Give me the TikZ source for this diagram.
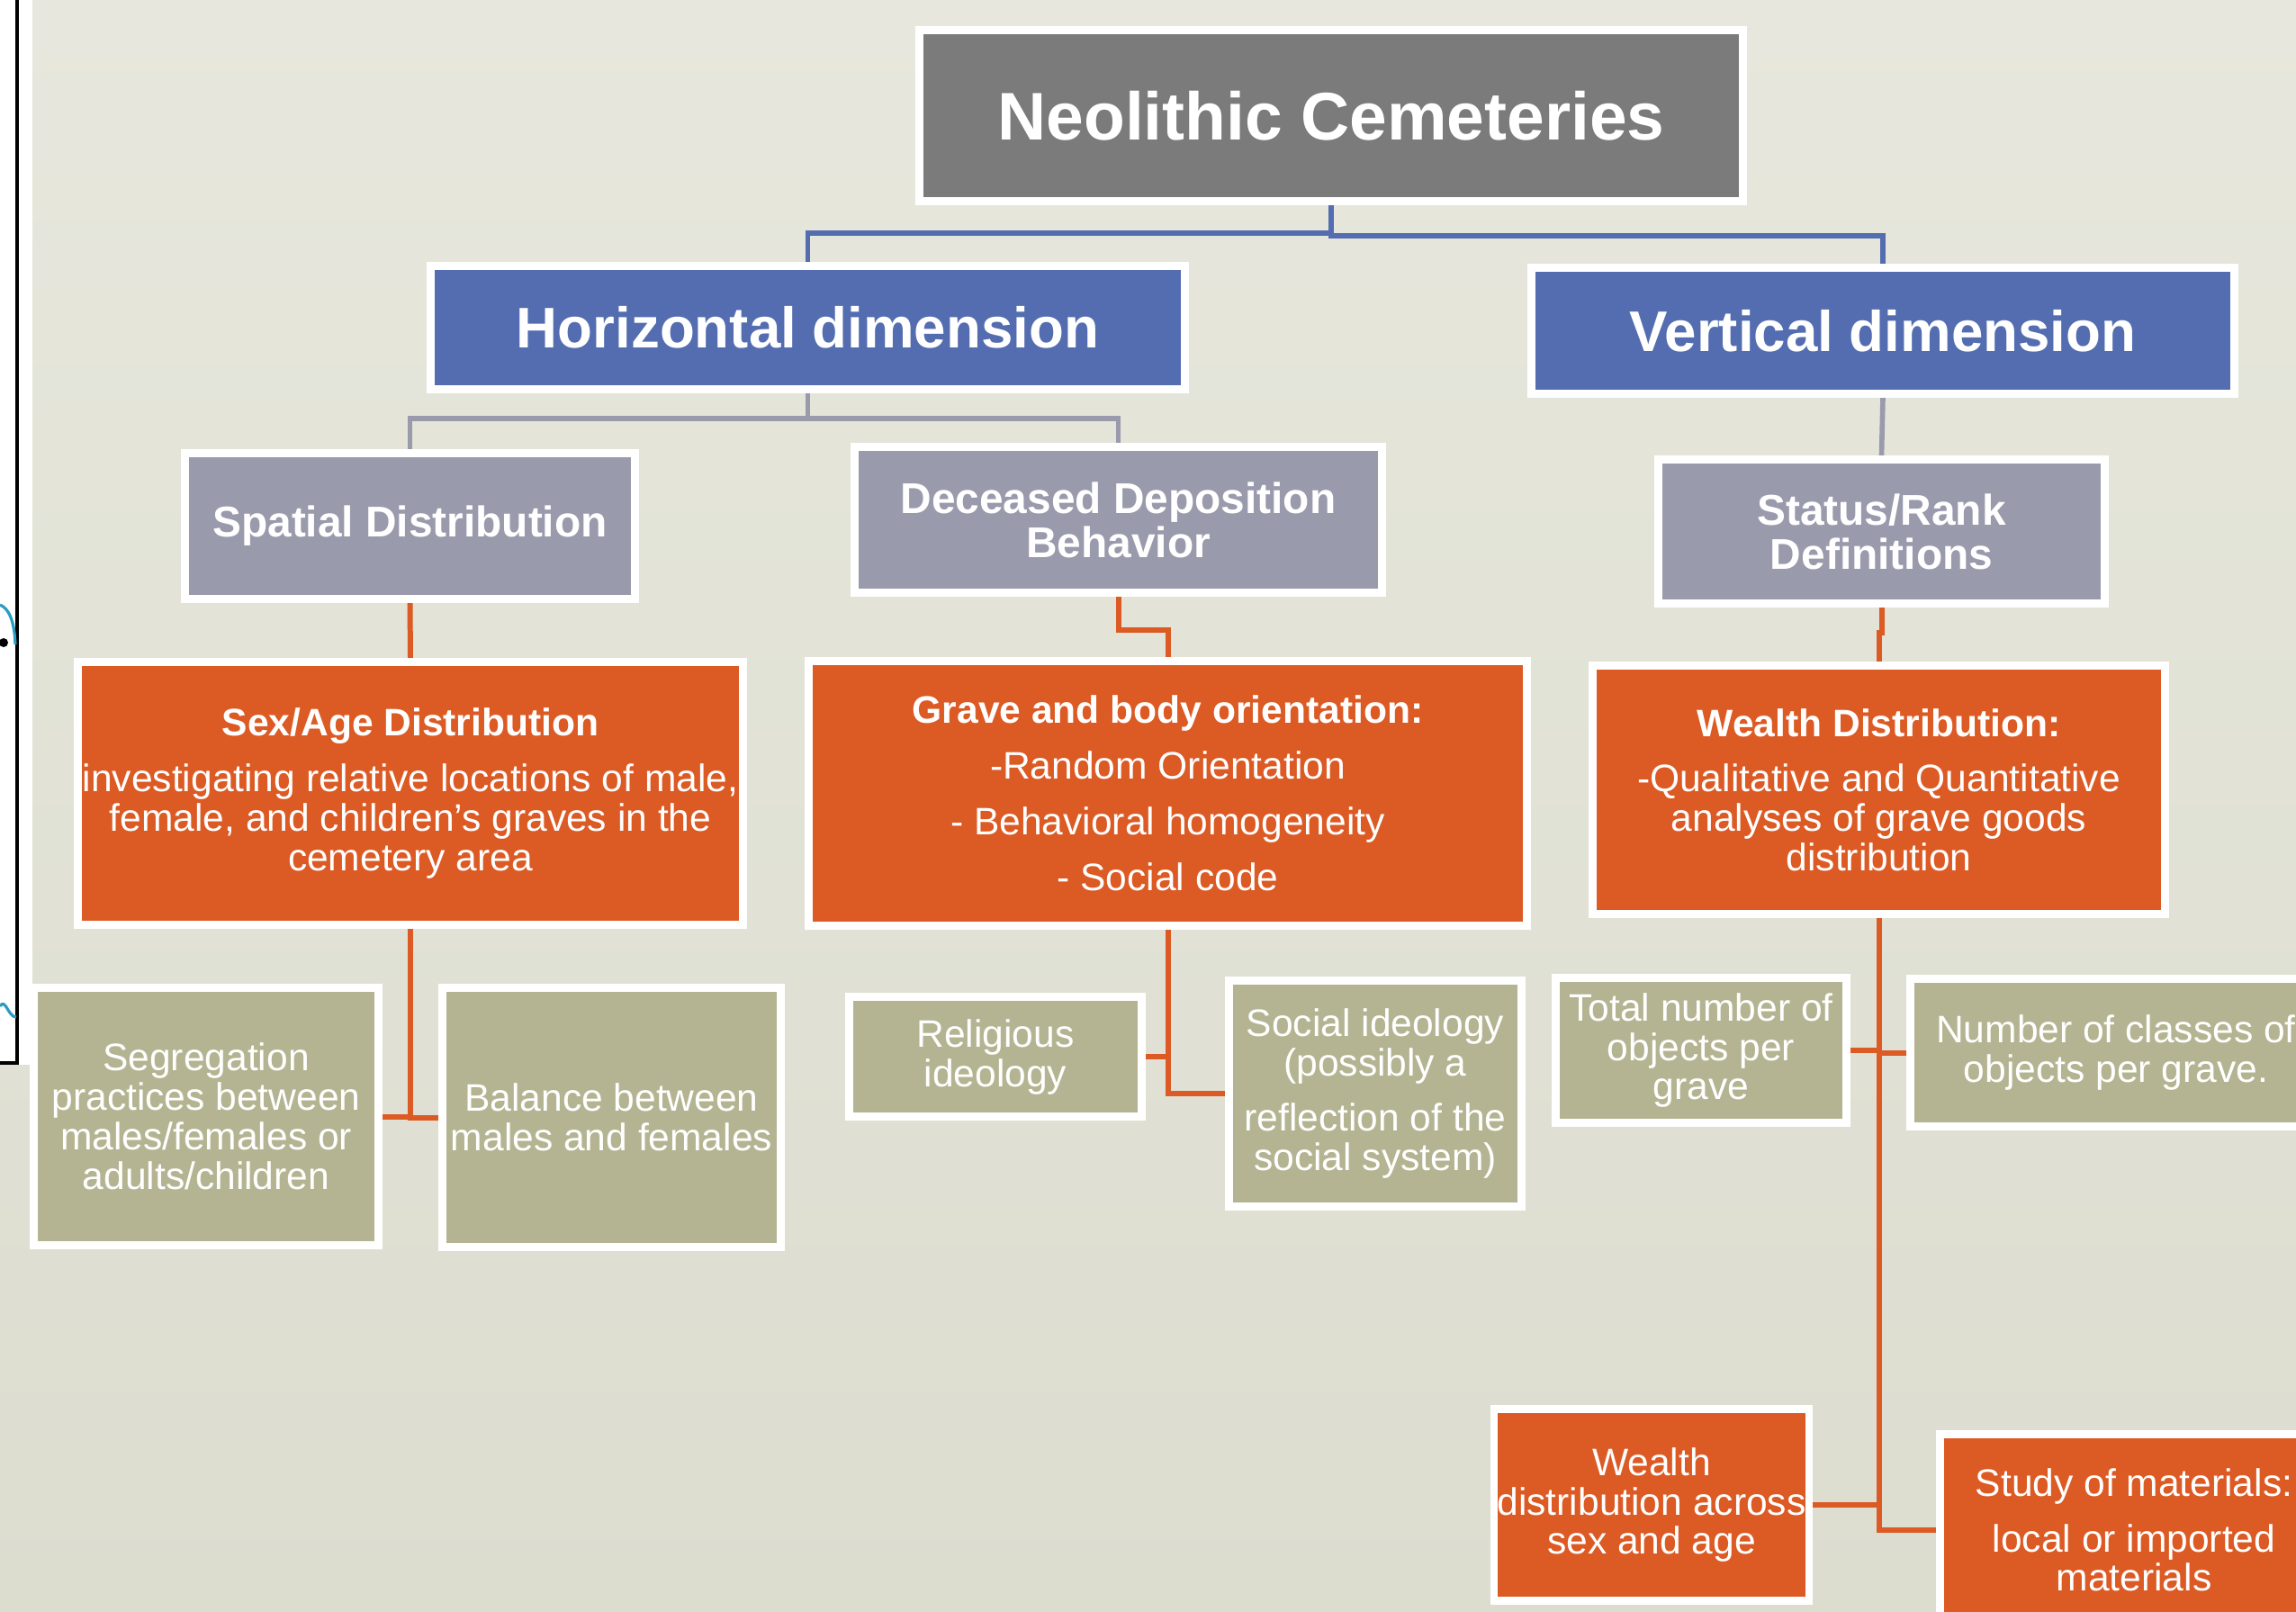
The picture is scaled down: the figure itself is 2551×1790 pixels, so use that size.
\documentclass[tikz,border=0pt]{standalone}
\usepackage{fontspec}
\setmainfont{Liberation Sans}
\usetikzlibrary{shadows,backgrounds}
\definecolor{cembgtop}{HTML}{E7E7DD}
\definecolor{cembgbot}{HTML}{DCDDCF}
\definecolor{cemgray}{HTML}{7B7B7B}
\definecolor{cemblue}{HTML}{536DB0}
\definecolor{cemslate}{HTML}{9A9AAD}
\definecolor{cemorange}{HTML}{DC5A24}
\definecolor{cemolive}{HTML}{B4B492}
\definecolor{cemteal}{HTML}{2A9CC4}

\begin{document}
\begin{tikzpicture}[x=0.01cm, y=-0.01cm,
    card/.style={draw=white, line width=2.5pt, text=white, align=center, inner sep=1pt,
      drop shadow={shadow xshift=0.8pt, shadow yshift=-1.2pt, opacity=0.25}},
    topbox/.style={card, fill=cemgray, font=\fontsize{21.3}{22}\selectfont\bfseries},
    dimbox/.style={card, fill=cemblue, font=\fontsize{18.1}{19}\selectfont\bfseries},
    aspectbox/.style={card, fill=cemslate, font=\fontsize{13.6}{13.9}\selectfont\bfseries},
    topicbox/.style={card, fill=cemorange, font=\fontsize{12.1}{12.5}\selectfont},
    leafbox/.style={card, fill=cemolive, font=\fontsize{12.1}{12.5}\selectfont},
    hotleaf/.style={card, fill=cemorange, font=\fontsize{12.1}{12.5}\selectfont},
    bluelink/.style={draw=cemblue, line width=1.5pt},
    greylink/.style={draw=cemslate, line width=1.6pt},
    orangelink/.style={draw=cemorange, line width=1.7pt}]
    \useasboundingbox (0,0) rectangle (2551,1790);

    % Main components
    \node[topbox, minimum width=9.15cm, minimum height=1.90cm] (title) at (1479,128.5) {Neolithic Cemeteries};
    \node[dimbox, minimum width=8.38cm, minimum height=1.37cm] (horiz) at (897.5,364) {Horizontal dimension};
    \node[dimbox, minimum width=7.81cm, minimum height=1.40cm] (vert) at (2092,367.5) {Vertical dimension};

    \node[aspectbox, minimum width=5.00cm, minimum height=1.62cm] (spatial) at (455.5,584.5) {Spatial Distribution};
    \node[aspectbox, minimum width=5.86cm, minimum height=1.62cm] (deposit) at (1242.5,577.5) {Deceased Deposition\\Behavior};
    \node[aspectbox, minimum width=4.96cm, minimum height=1.60cm] (status) at (2090.5,590.5) {Status/Rank\\Definitions};

    \node[topicbox, minimum width=7.39cm, minimum height=2.92cm] (sexage) at (456,881.5)
      {{\bfseries Sex/Age Distribution}\\[5pt]investigating relative locations of male,\\female, and children’s graves in the\\cemetery area};
    \node[topicbox, minimum width=7.98cm, minimum height=2.94cm] (grave) at (1297.5,881.5)
      {{\bfseries Grave and body orientation:}\\[5.1pt]-Random Orientation\\[5.1pt]- Behavioral homogeneity\\[5.1pt]- Social code};
    \node[topicbox, minimum width=6.36cm, minimum height=2.76cm] (wealth) at (2087.5,877.5)
      {{\bfseries Wealth Distribution:}\\[5pt]-Qualitative and Quantitative\\analyses of grave goods\\distribution};

    \node[leafbox, minimum width=3.83cm, minimum height=2.86cm] (segreg) at (229,1240.5)
      {Segregation\\practices between\\males/females or\\adults/children};
    \node[leafbox, minimum width=3.76cm, minimum height=2.88cm] (balance) at (679.5,1241.5)
      {Balance between\\males and females};
    \node[leafbox, minimum width=3.25cm, minimum height=1.33cm] (relig) at (1106,1174)
      {Religious\\ideology};
    \node[leafbox, minimum width=3.25cm, minimum height=2.51cm] (socideo) at (1528,1215)
      {Social ideology\\(possibly a\\[4.6pt]reflection of the\\social system)};
    \node[leafbox, minimum width=3.23cm, minimum height=1.61cm] (total) at (1890,1167)
      {Total number of\\objects per\\grave};
    \node[leafbox, minimum width=4.57cm, minimum height=1.64cm] (classes) at (2351,1169.5)
      {Number of classes of\\objects per grave.};
    \node[hotleaf, minimum width=3.49cm, minimum height=2.13cm] (wdist) at (1835,1672)
      {Wealth\\distribution across\\sex and age};
    \node[hotleaf, minimum width=4.31cm, minimum height=2.13cm] (materials) at (2371,1700)
      {Study of materials:\\[5pt]local or imported\\materials};

    \begin{scope}[on background layer]
      % Slide backdrop and the edge of the previous slide
      \shade[top color=cembgtop, bottom color=cembgbot] (0,0) rectangle (2551,1790);
      \fill[white] (0,0) rectangle (36,1183);
      \draw[black, line width=0.9pt] (19,0) -- (19,1181) -- (0,1181);
      \draw[cemteal, line width=0.9pt] (0,672) .. controls (10,676) and (16,690) .. (17,716);
      \draw[cemteal, line width=0.9pt] (0,1118) .. controls (6,1108) and (9,1130) .. (18,1130);
      \fill[black] (4,714) circle (5);

      % Connections
      \draw[bluelink] (title.south) -- ++(0,31) -| (horiz.north);
      \draw[bluelink] (title.south) -- ++(0,34) -| (vert.north);
      \draw[greylink] (horiz.south) -- ++(0,28) -| (spatial.north);
      \draw[greylink] (horiz.south) -- ++(0,28) -| (deposit.north);
      \draw[greylink] (vert.south) -- (status.north);
      \draw[orangelink] (spatial.south) -- (sexage.north);
      \draw[orangelink] (deposit.south) -- ++(0,37) -| (grave.north);
      \draw[orangelink] (status.south) -- ++(0,28) -| (wealth.north);
      \draw[orangelink] (sexage.south) |- (segreg.east);
      \draw[orangelink] (sexage.south) |- (balance.west);
      \draw[orangelink] (grave.south) |- (relig.east);
      \draw[orangelink] (grave.south) |- (socideo.west);
      \draw[orangelink] (wealth.south) |- (total.east);
      \draw[orangelink] (wealth.south) |- (classes.west);
      \draw[orangelink] (wealth.south) |- (wdist.east);
      \draw[orangelink] (wealth.south) |- (materials.west);
    \end{scope}
\end{tikzpicture}
\end{document}
